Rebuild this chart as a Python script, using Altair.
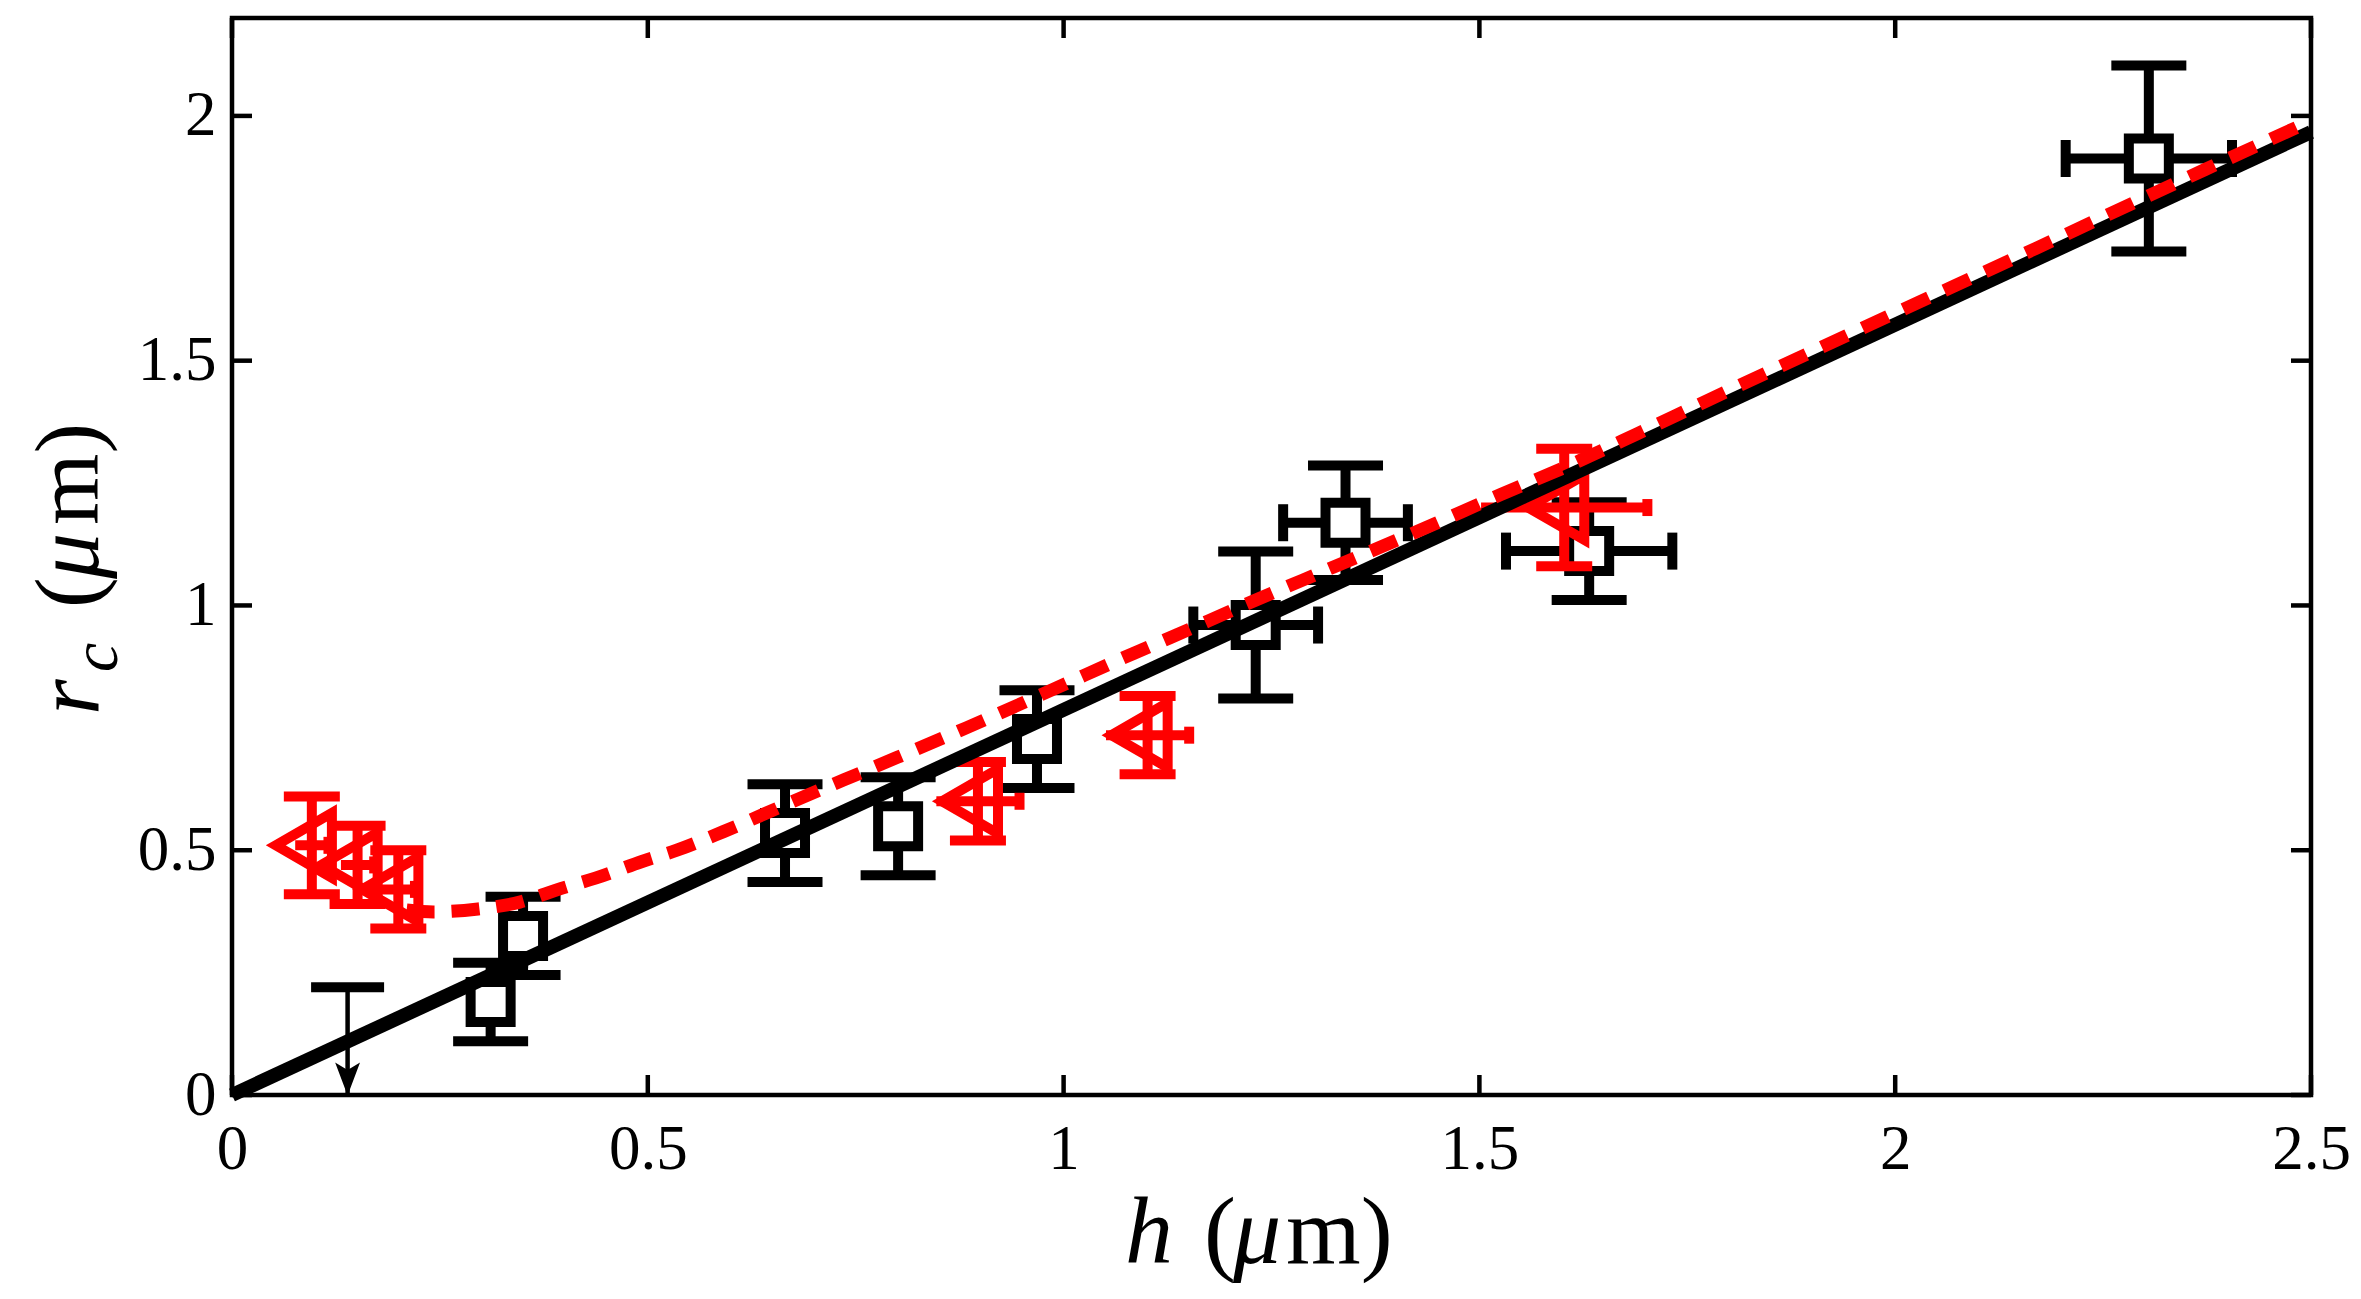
import altair as alt
import pandas as pd

# ---- data ----
# black open squares: h, r_c, x error, y error
sq_h = [0.311, 0.350, 0.665, 0.801, 0.968, 1.231, 1.339, 1.632, 2.305]
sq_r = [0.190, 0.325, 0.535, 0.549, 0.727, 0.960, 1.169, 1.111, 1.913]
sq_xerr = [0.0, 0.0, 0.0, 0.0, 0.0, 0.075, 0.075, 0.100, 0.100]
sq_yerr = [0.080, 0.080, 0.100, 0.100, 0.100, 0.150, 0.117, 0.100, 0.190]

# red left-pointing triangles
tri_h = [0.096, 0.151, 0.200, 0.897, 1.101, 1.602]
tri_r = [0.510, 0.470, 0.420, 0.600, 0.735, 1.200]
tri_xerr = [0.02, 0.02, 0.02, 0.05, 0.05, 0.10]
tri_yerr = [0.10, 0.08, 0.08, 0.08, 0.08, 0.12]

# upper-limit arrow
arrow_h = [0.139]
arrow_top = [0.22]
arrow_bottom = [0.0]

# solid linear fit
fit_h = [0.0, 2.5]
fit_r = [0.0, 1.967]

# dashed model curve
model_h = [0.21, 0.242, 0.296, 0.346, 0.396, 0.437, 0.493, 0.535, 0.591, 0.675,
           0.781, 0.883, 0.988, 1.084, 1.128, 1.216, 1.324, 1.425, 1.525, 1.621,
           1.689, 1.776, 1.973, 2.170, 2.372, 2.50]
model_r = [0.378, 0.374, 0.380, 0.394, 0.422, 0.443, 0.477, 0.500, 0.538, 0.600,
           0.676, 0.750, 0.829, 0.902, 0.934, 1.000, 1.078, 1.151, 1.226, 1.296,
           1.350, 1.420, 1.576, 1.730, 1.890, 1.99]

x_ticks = [0, 0.5, 1, 1.5, 2, 2.5]
y_ticks = [0, 0.5, 1, 1.5, 2]

# ---- frames ----
sq = pd.DataFrame({"h": sq_h, "r": sq_r, "xe": sq_xerr, "ye": sq_yerr})
sq["r_lo"] = sq.r - sq.ye
sq["r_hi"] = sq.r + sq.ye
sq["h_lo"] = sq.h - sq.xe
sq["h_hi"] = sq.h + sq.xe
sqx = sq[sq.xe > 0]

tri = pd.DataFrame({"h": tri_h, "r": tri_r, "xe": tri_xerr, "ye": tri_yerr})
tri["r_lo"] = tri.r - tri.ye
tri["r_hi"] = tri.r + tri.ye
tri["h_lo"] = tri.h - tri.xe
tri["h_hi"] = tri.h + tri.xe

arr = pd.DataFrame({"h": arrow_h, "top": arrow_top, "bot": arrow_bottom})
fit = pd.DataFrame({"h": fit_h, "r": fit_r})
model = pd.DataFrame({"h": model_h, "r": model_r})
xt = pd.DataFrame({"v": x_ticks})
yt = pd.DataFrame({"v": y_ticks})
one = pd.DataFrame({"a": [0]})

W, H = 2079, 1077
SERIF = "Liberation Serif"
RED = "#ff0000"
LW = 10

xs = alt.Scale(domain=[0, 2.5], nice=False, zero=False)
ys = alt.Scale(domain=[0, 2.2], nice=False, zero=False)
xax = alt.Axis(values=x_ticks, format="~g", ticks=False, tickSize=0, domain=False,
               grid=False, title=None, labelFont=SERIF, labelFontSize=63,
               labelColor="black", labelPadding=23, labelFlush=False,
               labelOverlap=False)
yax = alt.Axis(values=y_ticks, format="~g", ticks=False, tickSize=0, domain=False,
               grid=False, title=None, labelFont=SERIF, labelFontSize=63,
               labelColor="black", labelPadding=16, labelFlush=False,
               labelOverlap=False)


def X(f):
    return alt.X(f"{f}:Q", scale=xs, axis=xax)


def Y(f):
    return alt.Y(f"{f}:Q", scale=ys, axis=yax)


layers = []

# black error bars
base = alt.Chart(sq)
layers.append(base.mark_rule(color="black", strokeWidth=LW).encode(x=X("h"), y=Y("r_lo"), y2="r_hi"))
layers.append(base.mark_tick(color="black", orient="horizontal", size=75, thickness=LW, opacity=1).encode(x=X("h"), y=Y("r_lo")))
layers.append(base.mark_tick(color="black", orient="horizontal", size=75, thickness=LW, opacity=1).encode(x=X("h"), y=Y("r_hi")))
basex = alt.Chart(sqx)
layers.append(basex.mark_rule(color="black", strokeWidth=LW).encode(x=X("h_lo"), x2="h_hi", y=Y("r")))
layers.append(basex.mark_tick(color="black", orient="vertical", size=37, thickness=LW, opacity=1).encode(x=X("h_lo"), y=Y("r")))
layers.append(basex.mark_tick(color="black", orient="vertical", size=37, thickness=LW, opacity=1).encode(x=X("h_hi"), y=Y("r")))
layers.append(base.mark_point(shape="square", filled=True, fill="white", stroke="black",
                              strokeWidth=LW, size=1600, opacity=1).encode(x=X("h"), y=Y("r")))

# arrow (upper limit)
ab = alt.Chart(arr)
layers.append(ab.mark_rule(color="black", strokeWidth=4.5).encode(x=X("h"), y=Y("bot"), y2="top"))
layers.append(ab.mark_tick(color="black", orient="horizontal", size=73, thickness=LW, opacity=1).encode(x=X("h"), y=Y("top")))
layers.append(ab.mark_point(shape="M-0.75,-1L0,1L0.75,-1L0,-0.55Z", filled=True, color="black",
                            size=1100, opacity=1, yOffset=-16).encode(x=X("h"), y=Y("bot")))

# red error bars and triangles
tb = alt.Chart(tri)
layers.append(tb.mark_rule(color=RED, strokeWidth=LW).encode(x=X("h"), y=Y("r_lo"), y2="r_hi"))
layers.append(tb.mark_tick(color=RED, orient="horizontal", size=56, thickness=LW, opacity=1).encode(x=X("h"), y=Y("r_lo")))
layers.append(tb.mark_tick(color=RED, orient="horizontal", size=56, thickness=LW, opacity=1).encode(x=X("h"), y=Y("r_hi")))
layers.append(tb.mark_rule(color=RED, strokeWidth=LW).encode(x=X("h_lo"), x2="h_hi", y=Y("r")))
layers.append(tb.mark_tick(color=RED, orient="vertical", size=17, thickness=LW, opacity=1).encode(x=X("h_hi"), y=Y("r")))
layers.append(tb.mark_point(shape="triangle-left", filled=False, stroke=RED, strokeWidth=LW,
                            size=4200, opacity=1, xOffset=-8).encode(x=X("h"), y=Y("r")))

# fit line and model curve
layers.append(alt.Chart(fit).mark_line(color="black", strokeWidth=14).encode(x=X("h"), y=Y("r")))
layers.append(alt.Chart(model).mark_line(color=RED, strokeWidth=13, strokeDash=[28, 17],
                                         interpolate="monotone").encode(x=X("h"), y=Y("r")))

# inward ticks on all four sides
TL = 20
TW = 4.5
layers.append(alt.Chart(xt).mark_rule(color="black", strokeWidth=TW).encode(x=X("v"), y=alt.value(H), y2=alt.value(H - TL)))
layers.append(alt.Chart(xt).mark_rule(color="black", strokeWidth=TW).encode(x=X("v"), y=alt.value(0), y2=alt.value(TL)))
layers.append(alt.Chart(yt).mark_rule(color="black", strokeWidth=TW).encode(y=Y("v"), x=alt.value(0), x2=alt.value(TL)))
layers.append(alt.Chart(yt).mark_rule(color="black", strokeWidth=TW).encode(y=Y("v"), x=alt.value(W), x2=alt.value(W - TL)))

# axis titles as text
TF = 96
ob = alt.Chart(one)


def txt(s, x, y, size=TF, italic=False, angle=0):
    kw = dict(text=s, font=SERIF, fontSize=size, color="black", align="left",
              baseline="alphabetic")
    if italic:
        kw["fontStyle"] = "italic"
    if angle:
        kw["angle"] = angle
    return ob.mark_text(**kw).encode(x=alt.value(x), y=alt.value(y))


# x title: h (μm)
layers.append(txt("h", 893, 1245, italic=True))
layers.append(txt("(", 972, 1245))
layers.append(txt("μ", 1001, 1245, italic=True))
layers.append(txt("m)", 1054, 1245))
# y title: r_c (μm), rotated
YT = 92
layers.append(txt("r", -134, 697, size=YT, italic=True, angle=270))
layers.append(txt("c", -115, 654, size=66, italic=True, angle=270))
layers.append(txt("(", -134, 590, size=YT, angle=270))
layers.append(txt("μ", -134, 561, size=YT, italic=True, angle=270))
layers.append(txt("m)", -134, 507, size=YT, angle=270))

chart = alt.layer(*layers).properties(
    width=W, height=H,
    autosize=alt.AutoSizeParams(type="none"),
    padding={"left": 224, "top": 10, "right": 40, "bottom": 190},
    background="white",
).configure_view(stroke="black", strokeWidth=4.5)

chart.save("out.html", embed_options={"renderer": "svg", "actions": False})
